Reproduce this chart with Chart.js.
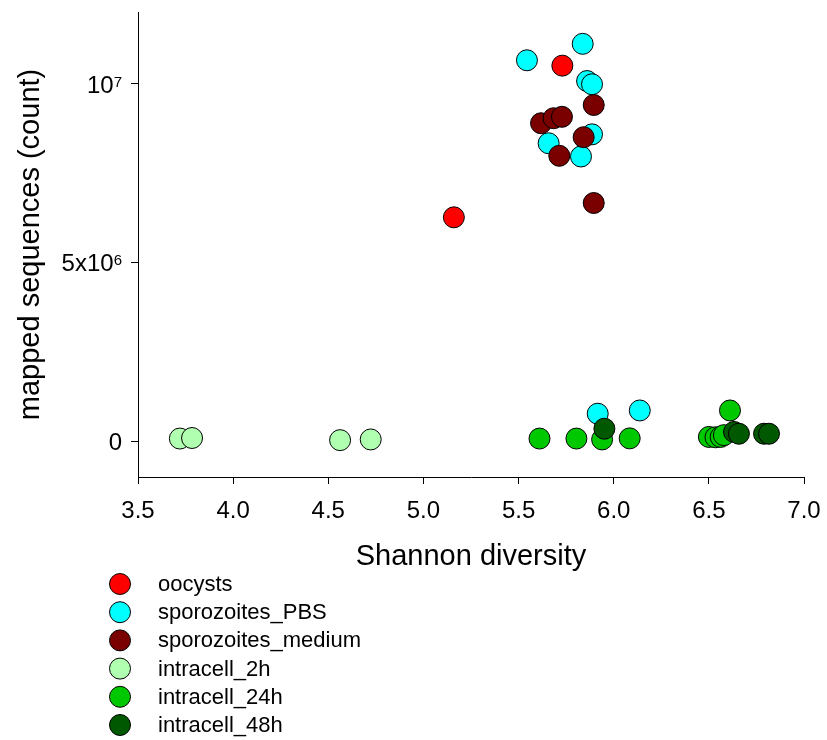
<!DOCTYPE html>
<html>
<head>
<meta charset="utf-8">
<script src="https://cdn.jsdelivr.net/npm/chart.js@4"></script>
<style>
  body { margin: 0; background: #fff; }
  #wrap { width: 827px; height: 740px; }
</style>
</head>
<body>
<div id="wrap"><canvas id="scatter"></canvas></div>
<script>
// groups and colours
const groups = ["oocysts", "sporozoites_PBS", "sporozoites_medium", "intracell_2h", "intracell_24h", "intracell_48h"];
const colors = ["#ff0000", "#00ffff", "#7a0000", "#b0ffb0", "#00c800", "#005800"];

// Shannon diversity (x) and mapped sequences (y) per group
const oocystsX = [5.73, 5.16];
const oocystsY = [10500000, 6260000];
const pbsX = [5.837, 5.544, 5.86, 5.886, 5.886, 5.658, 5.828, 5.916, 6.137];
const pbsY = [11110000, 10650000, 10070000, 9980000, 8580000, 8330000, 7960000, 770000, 860000];
const mediumX = [5.895, 5.618, 5.684, 5.728, 5.842, 5.714, 5.895];
const mediumY = [9400000, 8890000, 9030000, 9070000, 8500000, 7980000, 6660000];
const ic2hX = [3.72, 3.784, 4.562, 4.723];
const ic2hY = [75000, 90000, 30000, 50000];
const ic24hX = [5.61, 5.804, 5.939, 6.084, 6.5, 6.535, 6.562, 6.579, 6.611];
const ic24hY = [75000, 75000, 50000, 80000, 120000, 110000, 120000, 170000, 860000];
const ic48hX = [5.951, 6.632, 6.658, 6.79, 6.816];
const ic48hY = [350000, 260000, 210000, 210000, 210000];

// y axis ticks: base text + exponent
const yTicks = [0, 5000000, 10000000];
const yTickBase = ["0", "5x10", "10"];
const yTickExp = ["", "6", "7"];

const FONT = "'Liberation Sans', Arial, sans-serif";

const xs = [oocystsX, pbsX, mediumX, ic2hX, ic24hX, ic48hX];
const ys = [oocystsY, pbsY, mediumY, ic2hY, ic24hY, ic48hY];

const datasets = groups.map((g, i) => ({
    label: g,
    data: xs[i].map((x, k) => ({ x: x, y: ys[i][k] })),
    backgroundColor: colors[i],
    borderColor: "#000",
    borderWidth: 1,
    pointRadius: 10.5,
    pointHoverRadius: 10.5,
    order: groups.length - i   // later groups drawn on top
}));

// y tick labels with superscript exponents
const expLabels = {
    id: "expLabels",
    afterDraw(chart) {
        const ctx = chart.ctx;
        const y = chart.scales.y;
        const right = y.right - 7 - 9;
        ctx.save();
        ctx.fillStyle = "#000";
        ctx.textBaseline = "alphabetic";
        ctx.textAlign = "right";
        yTicks.forEach((v, i) => {
            const py = y.getPixelForValue(v);
            let x = right;
            if (yTickExp[i]) {
                ctx.font = "15px " + FONT;
                ctx.fillText(yTickExp[i], x, py + 3);
                x -= ctx.measureText(yTickExp[i]).width;
            }
            ctx.font = "24px " + FONT;
            ctx.fillText(yTickBase[i], x, py + 9);
        });
        ctx.restore();
    }
};

// legend drawn as a list under the plot
const listLegend = {
    id: "listLegend",
    afterDraw(chart) {
        const ctx = chart.ctx;
        ctx.save();
        ctx.font = "22px " + FONT;
        ctx.textBaseline = "middle";
        ctx.textAlign = "left";
        chart.data.datasets.forEach((ds, i) => {
            const cy = 584 + i * 28.2;
            ctx.beginPath();
            ctx.arc(120, cy, 10.5, 0, Math.PI * 2);
            ctx.fillStyle = ds.backgroundColor;
            ctx.fill();
            ctx.lineWidth = 1;
            ctx.strokeStyle = "#000";
            ctx.stroke();
            ctx.fillStyle = "#000";
            ctx.fillText(ds.label, 158, cy + 1);
        });
        ctx.restore();
    }
};

new Chart(document.getElementById("scatter"), {
    type: "scatter",
    data: { datasets: datasets },
    plugins: [expLabels, listLegend],
    options: {
        responsive: true,
        maintainAspectRatio: false,
        animation: false,
        layout: { padding: { top: 12, right: 23, bottom: 166, left: 0 } },
        plugins: {
            legend: { display: false },
            tooltip: { enabled: false }
        },
        scales: {
            x: {
                type: "linear",
                min: 3.5,
                max: 7.0,
                ticks: {
                    stepSize: 0.5,
                    color: "#000",
                    font: { family: FONT, size: 24 },
                    padding: 13,
                    callback: v => v.toFixed(1)
                },
                grid: { display: true, drawOnChartArea: false, drawTicks: true, tickLength: 7, color: "#000" },
                border: { display: true, color: "#000", width: 1 },
                title: {
                    display: true,
                    text: "Shannon diversity",
                    color: "#000",
                    font: { family: FONT, size: 29 },
                    padding: { top: 0, bottom: 0 }
                },
                afterFit: s => { s.height = 97; s.paddingLeft = 0; s.paddingRight = 0; }
            },
            y: {
                type: "linear",
                min: -1000000,
                max: 12000000,
                afterBuildTicks: s => { s.ticks = yTicks.map(v => ({ value: v })); },
                ticks: { display: false },
                grid: { display: true, drawOnChartArea: false, drawTicks: true, tickLength: 7, color: "#000" },
                border: { display: true, color: "#000", width: 1 },
                title: {
                    display: true,
                    text: "mapped sequences (count)",
                    color: "#000",
                    font: { family: FONT, size: 29 },
                    padding: { top: 14, bottom: 0 }
                },
                afterFit: s => { s.width = 138; s.paddingTop = 0; s.paddingBottom = 0; }
            }
        }
    }
});
</script>
</body>
</html>
